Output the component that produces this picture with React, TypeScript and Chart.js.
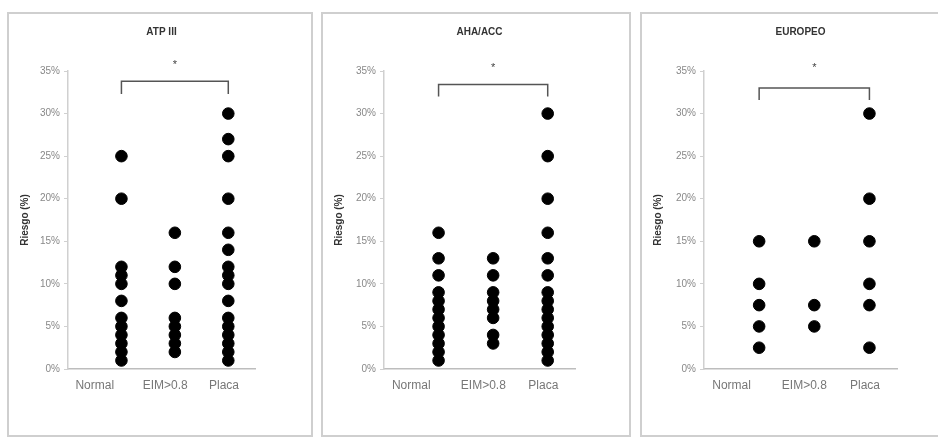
import React, { useEffect, useRef } from 'react';
import { Chart, registerables } from 'chart.js';

Chart.register(...registerables);

const categories = ['Normal', 'EIM>0.8', 'Placa'];
const panelTitles = ['ATP III', 'AHA/ACC', 'EUROPEO'];
const yAxisTitle = 'Riesgo (%)';

const atpNormal = [25, 20, 12, 11, 10, 8, 6, 5, 4, 3, 2, 1];
const atpEim = [16, 12, 10, 6, 5, 4, 3, 2];
const atpPlaca = [30, 27, 25, 20, 16, 14, 12, 11, 10, 8, 6, 5, 4, 3, 2, 1];

const ahaNormal = [16, 13, 11, 9, 8, 7, 6, 5, 4, 3, 2, 1];
const ahaEim = [13, 11, 9, 8, 7, 6, 4, 3];
const ahaPlaca = [30, 25, 20, 16, 13, 11, 9, 8, 7, 6, 5, 4, 3, 2, 1];

const euroNormal = [15, 10, 7.5, 5, 2.5];
const euroEim = [15, 7.5, 5];
const euroPlaca = [30, 20, 15, 10, 7.5, 2.5];

const bracketTop = [33.8, 33.4, 33.0];
const bracketBottom = [32.3, 32.0, 31.6];
const asteriskLevel = [35.7, 35.3, 35.3];

const panelSeries = [
  [atpNormal, atpEim, atpPlaca],
  [ahaNormal, ahaEim, ahaPlaca],
  [euroNormal, euroEim, euroPlaca],
];

const FONT = "'Liberation Sans', Arial, sans-serif";

// layout only
const PANELS = [
  { left: 7, width: 306, areaLeft: 59, areaWidth: 187 },
  { left: 321, width: 310, areaLeft: 61, areaWidth: 191 },
  { left: 640, width: 310, areaLeft: 62, areaWidth: 193 },
];
const PANEL_TOP = 12;
const PANEL_HEIGHT = 425;
const BORDER = 2;
const LABEL_AT = [0.5, 1.82, 2.92];

function Panel({ index }: { index: number }) {
  const ref = useRef<HTMLCanvasElement | null>(null);
  const p = PANELS[index];
  const innerW = p.width - 2 * BORDER;
  const innerH = PANEL_HEIGHT - 2 * BORDER;

  useEffect(() => {
    if (!ref.current) return;
    const series = panelSeries[index];
    const datasets: any[] = series.map((vals, ci) => ({
      label: categories[ci],
      data: vals.map((v) => ({ x: ci + 1, y: v })),
      backgroundColor: '#000',
      borderColor: '#000',
      borderWidth: 1,
      pointRadius: 5.8,
      showLine: false,
    }));
    datasets.push({
      label: 'bracket',
      data: [
        { x: 1, y: bracketBottom[index] },
        { x: 1, y: bracketTop[index] },
        { x: 3, y: bracketTop[index] },
        { x: 3, y: bracketBottom[index] },
      ],
      showLine: true,
      pointRadius: 0,
      borderColor: '#555',
      borderWidth: 1.5,
      fill: false,
      clip: false,
    });

    const asteriskPlugin = {
      id: 'asterisk' + index,
      afterDatasetsDraw(chart: any) {
        const { ctx, scales } = chart;
        ctx.save();
        ctx.fillStyle = '#444';
        ctx.font = `11px ${FONT}`;
        ctx.textAlign = 'center';
        ctx.textBaseline = 'middle';
        ctx.fillText('*', scales.x.getPixelForValue(2), scales.y.getPixelForValue(asteriskLevel[index]));
        ctx.restore();
      },
    };

    const chart = new Chart(ref.current, {
      type: 'scatter',
      data: { datasets },
      plugins: [asteriskPlugin],
      options: {
        animation: false,
        responsive: false,
        devicePixelRatio: 1,
        layout: {
          padding: {
            left: 6,
            right: innerW - p.areaLeft - p.areaWidth,
            top: 0,
            bottom: innerH - 355 - 40,
          },
        },
        plugins: {
          legend: { display: false },
          tooltip: { enabled: false },
          title: {
            display: true,
            fullSize: false,
            text: panelTitles[index],
            color: '#333',
            font: { family: FONT, size: 10, weight: 'bold' },
            padding: { top: 12, bottom: 33 },
          },
        },
        scales: {
          x: {
            type: 'linear',
            min: 0,
            max: 3.5,
            afterBuildTicks: (s: any) => {
              s.ticks = LABEL_AT.map((v) => ({ value: v }));
            },
            afterFit: (s: any) => {
              s.height = 40;
            },
            ticks: {
              callback: (_v: any, i: number) => categories[i],
              color: '#777',
              font: { family: FONT, size: 12 },
              padding: 9,
              maxRotation: 0,
              autoSkip: false,
            },
            grid: { display: true, drawOnChartArea: false, drawTicks: false },
            border: { display: true, color: '#bdbdbd', width: 1.5 },
          },
          y: {
            min: 0,
            max: 35,
            afterFit: (s: any) => {
              s.width = p.areaLeft - 6;
            },
            ticks: {
              stepSize: 5,
              callback: (v: any) => v + '%',
              color: '#888',
              font: { family: FONT, size: 10 },
              padding: 4,
            },
            grid: { drawOnChartArea: false, drawTicks: true, tickLength: 4, color: '#d0d0d0' },
            border: { display: true, color: '#d0d0d0', width: 1.5 },
            title: {
              display: true,
              text: yAxisTitle,
              color: '#333',
              font: { family: FONT, size: 10, weight: 'bold' },
              padding: { top: 4, bottom: 4 },
            },
          },
        },
      } as any,
    });
    return () => chart.destroy();
  }, [index]);

  return (
    <div
      style={{
        position: 'absolute',
        left: p.left,
        top: PANEL_TOP,
        width: p.width,
        height: PANEL_HEIGHT,
        border: `${BORDER}px solid #cfcfcf`,
        boxSizing: 'border-box',
        background: '#fff',
      }}
    >
      <canvas ref={ref} width={innerW} height={innerH} style={{ display: 'block', width: innerW, height: innerH }} />
    </div>
  );
}

export default function App() {
  return (
    <div
      style={{
        position: 'absolute',
        left: 0,
        top: 0,
        width: 938,
        height: 437,
        overflow: 'hidden',
        background: '#fff',
      }}
    >
      {PANELS.map((_, i) => (
        <Panel key={i} index={i} />
      ))}
    </div>
  );
}
